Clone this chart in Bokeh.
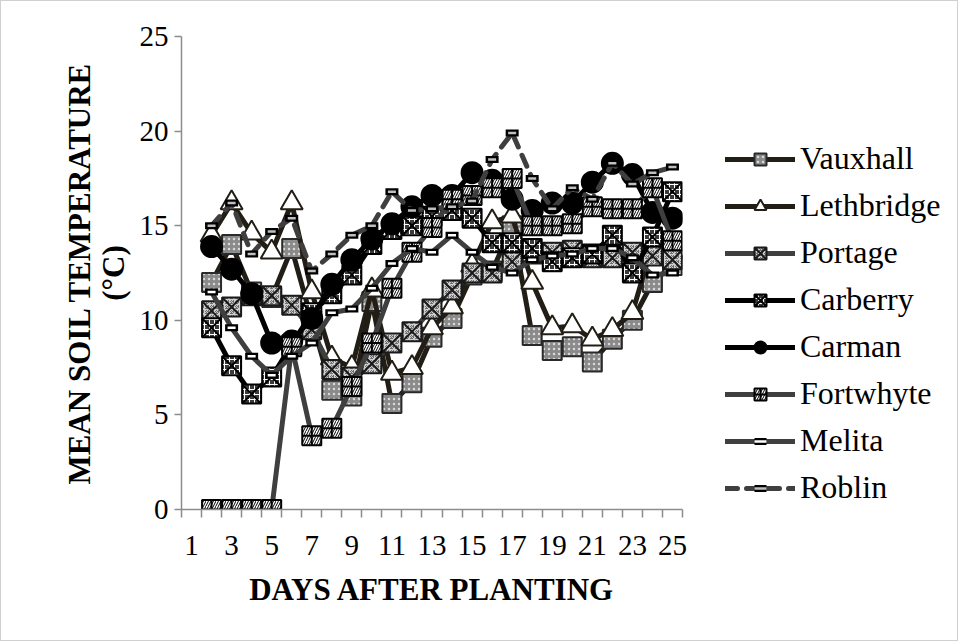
from bokeh.plotting import figure
from bokeh.layouts import row
from bokeh.models import Range1d, FixedTicker, Legend, LegendItem
from bokeh.embed import file_html
from bokeh.resources import INLINE

# Mean daily soil temperature (°C) by site, days 2-25 after planting
days = list(range(2, 26))
vauxhall = [12.0, 14.0, 11.5, 11.2, 13.8, 10.0, 6.3, 6.0, 11.0, 5.6, 6.7, 9.1,
            10.1, 12.4, 12.6, 15.0, 9.2, 8.4, 8.6, 7.8, 9.0, 10.0, 12.0, 12.9]
lethbridge = [14.5, 16.2, 14.6, 13.6, 16.2, 11.5, 8.0, 7.5, 11.6, 7.2, 7.5, 9.6,
              10.7, 12.9, 15.2, 15.5, 12.0, 9.6, 9.7, 9.0, 9.5, 10.4, 14.0, 13.6]
portage = [10.5, 10.7, 11.3, 11.3, 10.8, 9.5, 7.4, 7.0, 7.7, 8.8, 9.4, 10.6,
           11.6, 12.5, 12.5, 13.1, 13.5, 13.6, 13.7, 13.3, 13.3, 13.6, 13.4, 13.2]
carberry = [9.6, 7.6, 6.1, 7.0, 8.7, 10.4, 11.4, 12.4, 14.0, 14.8, 15.0, 15.5,
            15.8, 15.4, 14.1, 14.1, 13.8, 13.1, 13.3, 13.5, 14.5, 12.5, 14.4, 16.8]
carman = [13.9, 12.7, 11.4, 8.8, 8.9, 10.1, 11.9, 13.2, 14.3, 15.1, 16.0, 16.6,
          16.6, 17.8, 17.4, 16.4, 15.8, 16.2, 16.2, 17.3, 18.3, 17.7, 15.7, 15.4]
fortwhyte = [0.0, 0.0, 0.0, 0.0, 8.6, 3.9, 4.3, 6.5, 8.8, 11.7, 13.6, 14.9,
             16.4, 16.6, 17.0, 17.5, 15.0, 15.0, 15.1, 16.0, 15.9, 15.9, 17.0, 14.2]
melita = [11.5, 9.6, 8.1, 7.1, 8.1, 8.8, 10.4, 10.6, 11.7, 13.0, 13.8, 13.6,
          14.5, 13.6, 12.8, 12.5, 13.2, 13.4, 13.5, 13.8, 13.8, 13.3, 12.4, 12.5]
roblin = [15.0, 16.2, 13.5, 14.7, 15.4, 12.6, 13.5, 14.5, 15.0, 16.8, 15.8, 15.9,
          16.0, 16.3, 18.5, 19.9, 17.5, 15.9, 17.0, 16.4, 18.3, 17.2, 17.8, 18.1]

x_labels = {d: str(d) for d in range(1, 26, 2)}
y_ticks = [0, 5, 10, 15, 20, 25]

SERIF = "Liberation Serif"
DARK = "#221e15"
GREY = "#3f3f3f"
LW = 5

# name, values, line colour, line dash, marker style
SERIES = [
    ("Vauxhall", vauxhall, DARK, "solid",
     dict(marker="square", size=19, fill_color="#8a8a8a", line_color="#2a2a2a",
          hatch_pattern="dot", hatch_color="#d8d8d8")),
    ("Lethbridge", lethbridge, DARK, "solid",
     dict(marker="triangle", size=22, fill_color="white", line_color=DARK)),
    ("Portage", portage, GREY, "solid",
     dict(marker="square_x", size=19, fill_color="#6e6e6e", line_color="#1a1a1a",
          hatch_pattern="criss_cross", hatch_color="#cfcfcf")),
    ("Carberry", carberry, "black", "solid",
     dict(marker="square_x", size=19, fill_color="#3a3a3a", line_color="black",
          hatch_pattern="cross", hatch_color="white")),
    ("Carman", carman, "black", "solid",
     dict(marker="circle", size=21, fill_color="black", line_color="black")),
    ("Fortwhyte", fortwhyte, GREY, "solid",
     dict(marker="square_cross", size=19, fill_color="white", line_color="black",
          hatch_pattern="right_diagonal_line", hatch_color="black")),
    ("Melita", melita, GREY, "solid", "white"),
    ("Roblin", roblin, GREY, "12 9", "#bfbfbf"),
]


def draw(fig, xs, ys, color, dash, style):
    """Draw one site's line and markers on fig; return the renderers."""
    rs = [fig.line(xs, ys, line_color=color, line_width=LW, line_dash=dash,
                   line_join="round", line_cap="round")]
    if isinstance(style, dict):
        kw = dict(style)
        kw["line_width"] = 2
        if "hatch_pattern" in kw:
            kw.update(hatch_scale=5, hatch_weight=1)
        rs.append(fig.scatter(xs, ys, **kw))
    else:
        # small boxed dash marker
        rs.append(fig.scatter(xs, ys, marker="dash", size=13, line_color="black", line_width=7))
        rs.append(fig.scatter(xs, ys, marker="dash", size=8, line_color=style, line_width=2.5))
    return rs


p = figure(width=699, height=639, output_backend="svg", toolbar_location=None,
           x_range=Range1d(0.5, 25.5), y_range=Range1d(0, 25),
           min_border_left=180, min_border_right=18,
           min_border_top=35, min_border_bottom=131)
p.outline_line_color = None
p.xgrid.visible = False
p.ygrid.visible = False

# x axis: labels on odd days, tick marks between categories
p.xaxis.ticker = FixedTicker(ticks=list(x_labels.keys()),
                             minor_ticks=[i + 0.5 for i in range(0, 26)])
p.xaxis.major_label_overrides = x_labels
p.xaxis.major_tick_out = 0
p.xaxis.major_tick_in = 0
p.xaxis.minor_tick_out = 8
p.xaxis.minor_tick_in = 0
p.xaxis.minor_tick_line_color = "#8c8c8c"
p.xaxis.minor_tick_line_width = 1.5
p.xaxis.axis_line_color = "#8c8c8c"
p.xaxis.axis_line_width = 1.5
p.xaxis.major_label_standoff = 18
p.xaxis.axis_label = "DAYS AFTER PLANTING"
p.xaxis.axis_label_standoff = 14

p.yaxis.ticker = FixedTicker(ticks=y_ticks)
p.yaxis.major_tick_out = 7
p.yaxis.major_tick_in = 0
p.yaxis.minor_tick_out = 0
p.yaxis.minor_tick_in = 0
p.yaxis.major_tick_line_color = "#8c8c8c"
p.yaxis.major_tick_line_width = 1.5
p.yaxis.axis_line_color = "#8c8c8c"
p.yaxis.axis_line_width = 1.5
p.yaxis.major_label_standoff = 6
p.yaxis.axis_label = "MEAN SOIL TEMPERATURE\n(°C)"
p.yaxis.axis_label_standoff = 6
p.yaxis.axis_label_text_line_height = 0.95

for ax in (p.xaxis, p.yaxis):
    ax.major_label_text_font = SERIF
    ax.major_label_text_font_size = "29px"
    ax.major_label_text_color = "black"
    ax.axis_label_text_font = SERIF
    ax.axis_label_text_font_size = "31px"
    ax.axis_label_text_font_style = "bold"
    ax.axis_label_text_color = "black"

for name, vals, color, dash, style in SERIES:
    draw(p, days, vals, color, dash, style)

# Legend panel beside the chart; its own copies of the series sit outside its view
lg = figure(width=257, height=639, output_backend="svg", toolbar_location=None,
            x_range=Range1d(-100, -99), y_range=Range1d(-100, -99),
            min_border_left=25, min_border_top=35, min_border_right=0,
            min_border_bottom=131, x_axis_location=None, y_axis_location=None)
lg.outline_line_color = None
lg.xgrid.visible = False
lg.ygrid.visible = False

items = []
for name, vals, color, dash, style in SERIES:
    items.append(LegendItem(label=name, renderers=draw(lg, days, vals, color, dash, style)))

legend = Legend(items=items, location=(0, 3))
legend.label_text_font = SERIF
legend.label_text_font_size = "32px"
legend.label_text_color = "black"
legend.glyph_width = 70
legend.glyph_height = 30
legend.label_height = 30
legend.label_standoff = 5
legend.spacing = 10
legend.padding = 0
legend.margin = 0
legend.border_line_alpha = 0
legend.background_fill_alpha = 0
lg.add_layout(legend, "center")

# thin frame around the whole chart area
layout = row(p, lg, spacing=0, styles={"border": "1px solid #d0d0d0"})
open("out.html", "w").write(file_html(layout, INLINE))
